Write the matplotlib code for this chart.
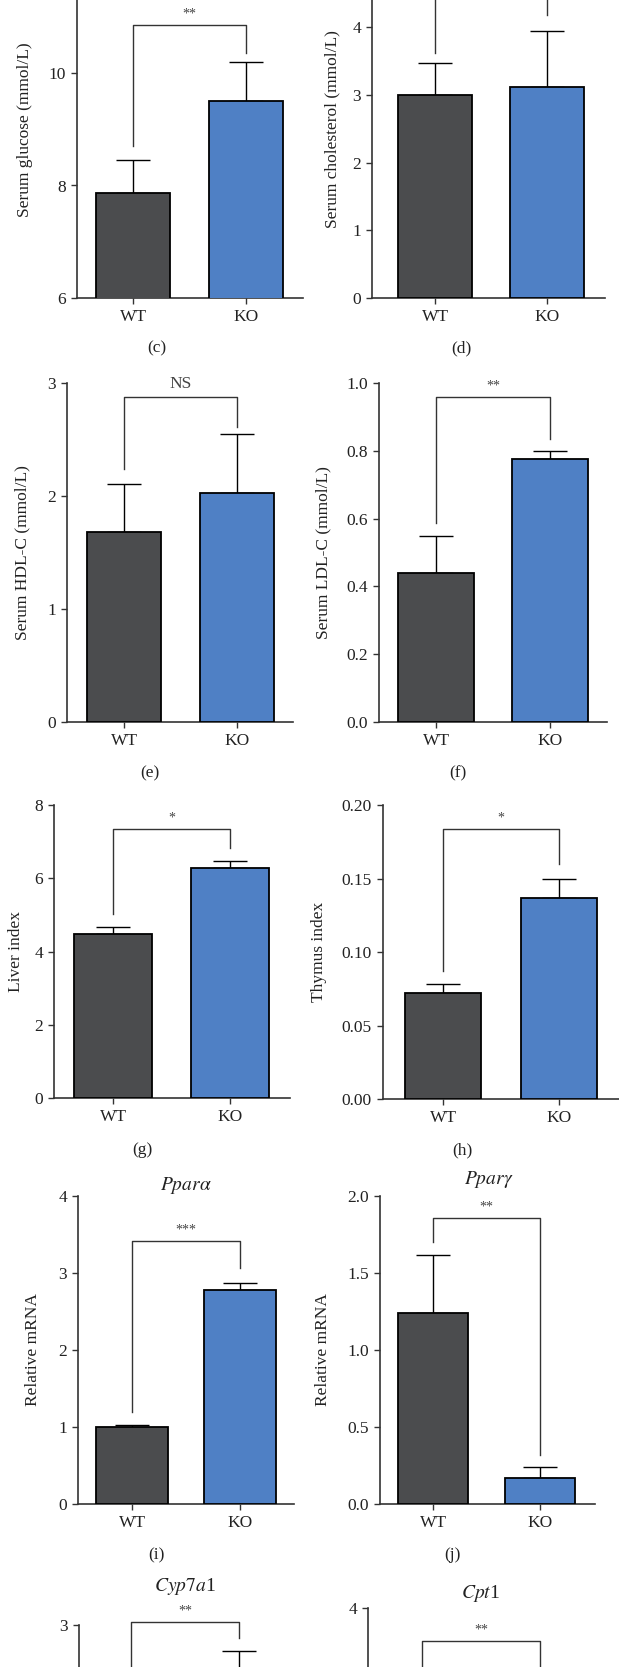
import matplotlib
matplotlib.use("Agg")
import matplotlib.pyplot as plt
from matplotlib.ticker import FormatStrFormatter

plt.rcParams['font.family'] = ['Liberation Serif', 'DejaVu Serif']
plt.rcParams['mathtext.fontset'] = 'stix'

# ---- data ----
groups = ['WT', 'KO']

glucose_mean = [7.87, 9.50]
glucose_err = [0.59, 0.70]
cholesterol_mean = [2.99, 3.12]
cholesterol_err = [0.48, 0.82]
hdl_mean = [1.68, 2.03]
hdl_err = [0.43, 0.52]
ldl_mean = [0.44, 0.775]
ldl_err = [0.11, 0.025]
liver_mean = [4.47, 6.29]
liver_err = [0.20, 0.19]
thymus_mean = [0.0723, 0.137]
thymus_err = [0.0062, 0.0125]
ppara_mean = [1.00, 2.78]
ppara_err = [0.02, 0.09]
pparg_mean = [1.24, 0.17]
pparg_err = [0.38, 0.07]
cyp7a1_mean = [1.00, 2.45]
cyp7a1_err = [0.20, 0.30]
cpt1_mean = [1.00, 2.80]
cpt1_err = [0.10, 0.25]

# significance: label, bracket height, left drop end, right drop end
# (label of panel d sits above the cropped picture, so none is drawn)
sig_glucose = ('**', 10.85, 8.71, 10.36)
sig_cholesterol = (None, 4.75, 3.62, 4.18)
sig_hdl = ('NS', 2.88, 2.24, 2.61)
sig_ldl = ('**', 0.96, 0.587, 0.835)
sig_liver = ('*', 7.35, 5.03, 6.83)
sig_thymus = ('*', 0.1836, 0.087, 0.16)
sig_ppara = ('***', 3.42, 1.20, 3.06)
sig_pparg = ('**', 1.86, 1.70, 0.32)
sig_cyp7a1 = ('**', 3.03, 1.40, 2.87)
sig_cpt1 = ('**', 3.57, 1.30, 3.10)

W, H = 619, 1667
WT_COLOR = '#4b4c4e'
KO_COLOR = '#4f80c5'
LINE = '#333333'
FS = 12.5

fig = plt.figure(figsize=(W / 100, H / 100), dpi=100)


def ftext(x, y, s, **kw):
    fig.text(x / W, 1 - y / H, s, ha='center', va='center', **kw)


def panel(box, mean, err, ylim, yticks, fmt, ylabel, sig, letter=None, title=None,
          xlabels=True):
    # box: left, right, top, bottom, wt_x, ko_x, ylabel_x (pixels)
    left, right, top, bottom, wt_x, ko_x, lab_x = box
    ax = fig.add_axes([left / W, 1 - bottom / H, (right - left) / W, (bottom - top) / H])
    sp = ko_x - wt_x
    ax.set_xlim((left - wt_x) / sp, (right - wt_x) / sp)
    ax.set_ylim(*ylim)
    xs = [0, 1]
    ax.bar(xs, mean, width=0.66, color=[WT_COLOR, KO_COLOR], edgecolor='black',
           linewidth=1.3, zorder=3)
    for x, m, e in zip(xs, mean, err):
        ax.errorbar(x, m, yerr=[[0], [e]], color='black', lw=1.0, capsize=12.5,
                    capthick=1.0, zorder=2)
    lab, yb, yl, yr = sig
    ax.plot([0, 0, 1, 1], [yl, yb, yb, yr], color=LINE, lw=1.0, clip_on=False)
    if lab:
        ax.annotate(lab, (0.5, yb), xytext=(0, 3), textcoords='offset points',
                    ha='center', va='bottom', fontsize=10 if '*' in lab else FS,
                    color='#444444', annotation_clip=False)
    ax.set_xticks(xs)
    ax.set_xticklabels(groups if xlabels else ['', ''])
    ax.set_yticks(yticks)
    ax.yaxis.set_major_formatter(FormatStrFormatter(fmt))
    for s in ['top', 'right']:
        ax.spines[s].set_visible(False)
    for s in ['left', 'bottom']:
        ax.spines[s].set_color(LINE)
        ax.spines[s].set_linewidth(1.2)
    ax.tick_params(length=4, width=1.0, color=LINE, labelsize=FS, labelcolor='#222222')
    ax.tick_params(axis='y', pad=4)
    ax.tick_params(axis='x', pad=4)
    if ylabel:
        ax.set_ylabel(ylabel, fontsize=FS, color='#222222')
        ax.yaxis.set_label_coords((lab_x - left) / (right - left), 0.5)
        ax.yaxis.label.set_verticalalignment('center')
    if letter:
        ftext(letter[1], letter[2], letter[0], fontsize=FS, color='#222222')
    if title:
        ftext(title[1], title[2], title[0], fontsize=14, color='#222222')
    return ax


# row 1 (cut off at the top)
panel((77, 303, -39.5, 298, 133, 246, 25), glucose_mean, glucose_err, (6, 12),
      [6, 8, 10], '%d', 'Serum glucose (mmol/L)', sig_glucose, ('(c)', 157, 348))
panel((372, 605, -40.75, 298, 435, 547, 332), cholesterol_mean, cholesterol_err, (0, 5),
      [0, 1, 2, 3, 4], '%d', 'Serum cholesterol (mmol/L)', sig_cholesterol, ('(d)', 461, 348))
# row 2
panel((67, 293, 383, 722, 124, 237, 22), hdl_mean, hdl_err, (0, 3),
      [0, 1, 2, 3], '%d', 'Serum HDL-C (mmol/L)', sig_hdl, ('(e)', 150, 773))
panel((379, 607, 383, 722, 436, 550, 323), ldl_mean, ldl_err, (0, 1.0),
      [0, 0.2, 0.4, 0.6, 0.8, 1.0], '%.1f', 'Serum LDL-C (mmol/L)', sig_ldl, ('(f)', 458, 773))
# row 3
panel((54, 290, 805, 1098, 113, 230, 16), liver_mean, liver_err, (0, 8),
      [0, 2, 4, 6, 8], '%d', 'Liver index', sig_liver, ('(g)', 142, 1150))
panel((383, 619, 805, 1099, 443, 559, 319), thymus_mean, thymus_err, (0, 0.2),
      [0, 0.05, 0.10, 0.15, 0.20], '%.2f', 'Thymus index', sig_thymus, ('(h)', 462, 1150))
# row 4
panel((78, 294, 1196, 1504, 132, 240, 33), ppara_mean, ppara_err, (0, 4),
      [0, 1, 2, 3, 4], '%d', 'Relative mRNA', sig_ppara, ('(i)', 156, 1555),
      (r'$Ppar\alpha$', 186, 1185))
panel((380, 595, 1196, 1504, 433, 540, 323), pparg_mean, pparg_err, (0, 2.0),
      [0, 0.5, 1.0, 1.5, 2.0], '%.1f', 'Relative mRNA', sig_pparg, ('(j)', 452, 1555),
      (r'$Ppar\gamma$', 489, 1180))
# row 5 (cut off at the bottom: only the top of each panel shows)
panel((79, 294, 1625, 1933, 131, 239, 33), cyp7a1_mean, cyp7a1_err, (0, 3),
      [3], '%d', None, sig_cyp7a1, None, (r'$Cyp7a$1', 185, 1586), xlabels=False)
panel((368, 605, 1608, 1916, 422, 540, 323), cpt1_mean, cpt1_err, (0, 4),
      [4], '%d', None, sig_cpt1, None, (r'$Cpt$1', 480, 1593), xlabels=False)

fig.savefig('out.png', dpi=100)
